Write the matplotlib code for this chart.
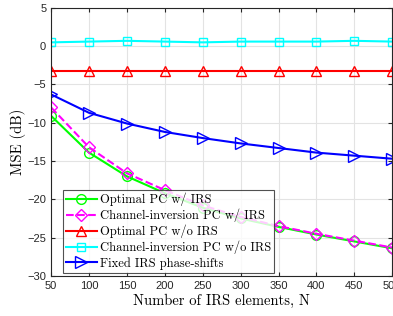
import matplotlib
matplotlib.use("Agg")
import matplotlib.pyplot as plt

# number of IRS elements
N = [50, 100, 150, 200, 250, 300, 350, 400, 450, 500]

# MSE (dB)
opt_w_irs = [-9.1, -13.9, -17.0, -19.2, -21.1, -22.5, -23.6, -24.6, -25.5, -26.4]
ci_w_irs = [-8.0, -13.2, -16.6, -18.8, -20.8, -22.3, -23.5, -24.5, -25.4, -26.3]
opt_wo_irs = [-3.3, -3.3, -3.3, -3.3, -3.3, -3.3, -3.3, -3.3, -3.3, -3.3]
ci_wo_irs = [0.5, 0.6, 0.7, 0.6, 0.5, 0.6, 0.6, 0.6, 0.7, 0.6]
fixed_irs = [-6.3, -8.7, -10.1, -11.2, -12.0, -12.7, -13.3, -13.9, -14.3, -14.7]

labels = ["Optimal PC w/ IRS", "Channel-inversion PC w/ IRS", "Optimal PC w/o IRS",
          "Channel-inversion PC w/o IRS", "Fixed IRS phase-shifts"]

plt.rcParams["mathtext.fontset"] = "cm"

fig = plt.figure(figsize=(3.93, 3.16), dpi=100)
ax = fig.add_axes([0.13, 0.127, 0.868, 0.848])

lw = 1.5
ax.plot(N, opt_w_irs, color="#00ff00", marker="o", ms=7, mfc="none", lw=lw, label=labels[0])
ax.plot(N, ci_w_irs, color="#ff00ff", marker="D", ms=6, mfc="none", lw=lw, ls="--", label=labels[1])
ax.plot(N, opt_wo_irs, color="#ff0000", marker="^", ms=7.5, mfc="none", lw=lw, label=labels[2])
ax.plot(N, ci_wo_irs, color="#00ffff", marker="s", ms=6, mfc="none", lw=lw, label=labels[3])
ax.plot(N, fixed_irs, color="#0000ff", marker=">", ms=8, mfc="none", lw=lw, label=labels[4])

ax.set_xlim(50, 500)
ax.set_ylim(-30, 5)
ax.set_xticks(N)
ax.set_yticks(range(-30, 6, 5))
ax.tick_params(direction="in", labelsize=8, length=3, top=True, right=True, colors="#262626")
for lab in ax.get_xticklabels() + ax.get_yticklabels():
    lab.set_family("Liberation Sans")
ax.grid(True, color="#e3e3e3", lw=0.8)
ax.set_axisbelow(True)
for s in ax.spines.values():
    s.set_color("#262626")
    s.set_linewidth(0.8)

ax.set_xlabel("Number of IRS elements, N", fontsize=10.5, fontname="cmr10", labelpad=2)
ax.set_ylabel("MSE (dB)", fontsize=10.5, fontname="cmr10", labelpad=1)

leg = ax.legend(loc="lower left", bbox_to_anchor=(0.025, 0.0), prop={"family": "cmr10", "size": 9},
                fancybox=False, edgecolor="#262626", handlelength=2.5, labelspacing=0.2,
                borderpad=0.25, handletextpad=0.2, borderaxespad=0.25)
leg.get_frame().set_linewidth(0.8)

fig.savefig("out.png", dpi=100)
